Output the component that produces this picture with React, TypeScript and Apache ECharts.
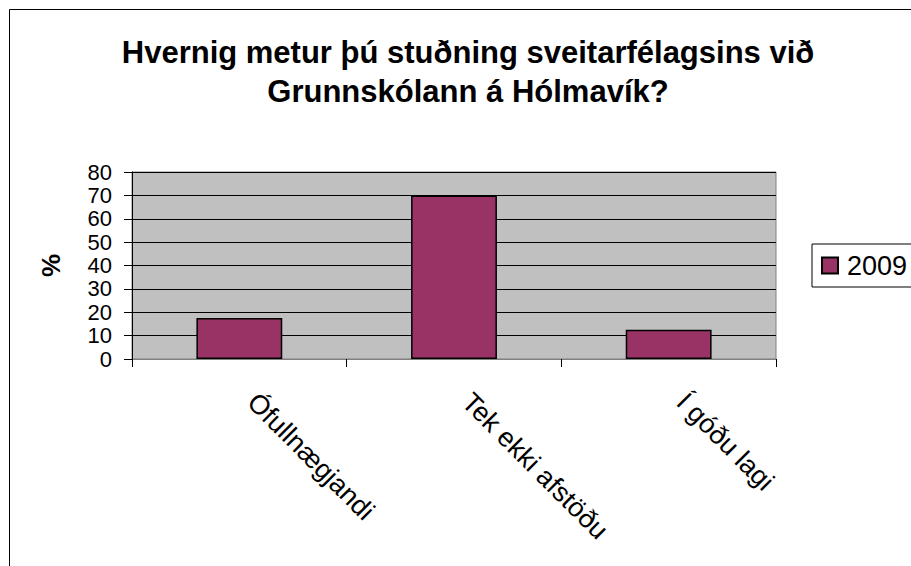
import React, { useEffect, useRef } from "react";
import * as echarts from "echarts";

const categories = ["Ófullnægjandi", "Tek ekki afstöðu", "Í góðu lagi"];
const values2009 = [17.5, 70, 12.5];
const seriesName = "2009";
const titleText = "Hvernig metur þú stuðning sveitarfélagsins við\nGrunnskólann á Hólmavík?";
const yAxisName = "%";

export default function App() {
  const ref = useRef<HTMLDivElement>(null);
  useEffect(() => {
    if (!ref.current) return;
    const chart = echarts.init(ref.current, null, { renderer: "svg" });
    const font = "Arial, 'Liberation Sans', sans-serif";
    chart.setOption({
      animation: false,
      backgroundColor: "#ffffff",
      textStyle: { fontFamily: font },
      title: {
        text: titleText,
        left: 463,
        top: 28,
        textAlign: "center",
        textStyle: {
          fontFamily: font,
          fontSize: 31,
          fontWeight: "bold",
          color: "#000",
          lineHeight: 39,
        },
      },
      graphic: [
        {
          type: "rect",
          shape: { x: 9.5, y: 9.5, width: 1000, height: 1000 },
          style: { fill: "none", stroke: "#000", lineWidth: 1 },
          silent: true,
          z: 0,
        },
      ],
      legend: {
        left: 812,
        top: 244,
        orient: "vertical",
        data: [seriesName],
        icon: "rect",
        itemWidth: 16,
        itemHeight: 16,
        itemGap: 0,
        padding: [8, 20, 8, 9],
        borderColor: "#000",
        borderWidth: 1,
        backgroundColor: "#fff",
        textStyle: { fontFamily: font, fontSize: 27, color: "#000", padding: [0, 0, 0, 4] },
      },
      grid: {
        left: 132,
        right: 135,
        top: 172,
        bottom: 207,
        show: true,
        backgroundColor: "#C0C0C0",
        borderColor: "#808080",
        borderWidth: 1,
        containLabel: false,
      },
      xAxis: {
        type: "category",
        data: categories,
        axisLine: { show: true, lineStyle: { color: "#808080", width: 1 } },
        axisTick: { show: true, alignWithLabel: false, length: 8, lineStyle: { color: "#000" } },
        axisLabel: {
          rotate: -45,
          fontSize: 27,
          color: "#000",
          margin: 26,
          padding: [0, 0, 0, 18],
          fontFamily: font,
          interval: 0,
        },
        splitLine: { show: false },
      },
      yAxis: {
        type: "value",
        min: 0,
        max: 80,
        interval: 10,
        name: yAxisName,
        nameLocation: "middle",
        nameGap: 68,
        nameRotate: 90,
        nameTextStyle: { fontFamily: font, fontSize: 26, fontWeight: "bold", color: "#000" },
        axisLine: { show: true, lineStyle: { color: "#000", width: 1 } },
        axisTick: { show: true, length: 8, lineStyle: { color: "#000" } },
        axisLabel: {
          fontSize: 22,
          lineHeight: 22,
          color: "#000",
          margin: 20,
          fontFamily: font,
          showMinLabel: true,
          showMaxLabel: true,
          hideOverlap: false,
        },
        splitLine: { show: true, lineStyle: { color: "#000", width: 1 } },
      },
      series: [
        {
          name: seriesName,
          type: "bar",
          data: values2009,
          barWidth: "40%",
          itemStyle: { color: "#993366", borderColor: "#000", borderWidth: 1.5 },
        },
      ],
    });
    return () => chart.dispose();
  }, []);
  return (
    <div
      ref={ref}
      style={{ position: "absolute", left: 0, top: 0, width: 911, height: 566 }}
    />
  );
}
